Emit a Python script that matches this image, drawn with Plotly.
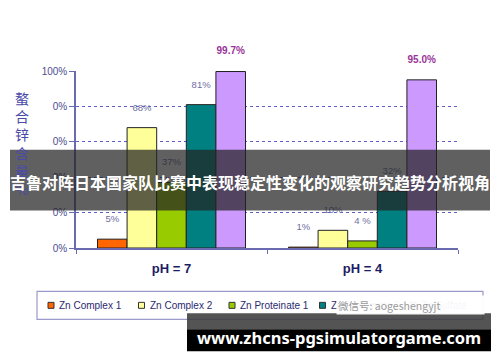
import plotly.graph_objects as go

# ---------------- data ----------------
categories = ["pH = 7", "pH = 4"]
series_names = ["Zn Complex 1", "Zn Complex 2", "Zn Proteinate 1", "Zn Proteinate 2", "Zn Sulfate"]
zn_complex_1 = [5, 0.5]
zn_complex_2 = [68, 10]
zn_proteinate_1 = [37, 4]
zn_proteinate_2 = [81, 32]
zn_sulfate = [99.7, 95.0]
labels_complex_1 = ["5%", "1%"]
labels_complex_2 = ["68%", "10%"]
labels_proteinate_1 = ["37%", "4 %"]
labels_proteinate_2 = ["81%", "32%"]
labels_sulfate = ["99.7%", "95.0%"]
y_tick_vals = [0, 20, 40, 60, 80, 100]
y_tick_text = ["0%", "0%", "0%", "0%", "0%", "100%"]
y_title_chars = ["螯", "合", "锌", "含", "量", "%"]
banner_text = "吉鲁对阵日本国家队比赛中表现稳定性变化的观察研究趋势分析视角"
url_text = "www.zhcns-pgsimulatorgame.com"
watermark_text = "微信号: aogeshengyjt"

values = [zn_complex_1, zn_complex_2, zn_proteinate_1, zn_proteinate_2, zn_sulfate]
labels = [labels_complex_1, labels_complex_2, labels_proteinate_1, labels_proteinate_2, labels_sulfate]
colors = ["#ff6600", "#ffff99", "#99cc00", "#008080", "#cc99ff"]
label_colors = ["#6e6ea0"] * 4 + ["#993399"]

# ---------------- layout geometry ----------------
W, H = 500, 362
ML, MR, MT, MB = 76, 42, 71, 113.5
PW, PH = W - ML - MR, H - MT - MB


def px(x):
    return (x - ML) / PW


def py(y):
    return (H - MB - y) / PH


group_pos = list(range(len(categories)))
bar_w = 0.155
n = len(series_names)

fig = go.Figure()
for i in range(n):
    xs = [g + (i - (n - 1) / 2) * bar_w for g in group_pos]
    fig.add_trace(go.Bar(
        x=xs, y=values[i], width=bar_w, name=series_names[i],
        marker=dict(color=colors[i], line=dict(color="#222222", width=1)),
        showlegend=False, hoverinfo="skip",
    ))
for i in range(n):
    xs = [g + (i - (n - 1) / 2) * bar_w for g in group_pos]
    bold = i == n - 1
    fig.add_trace(go.Scatter(
        x=xs, y=values[i], mode="markers+text", text=labels[i],
        textposition="top center", cliponaxis=False,
        marker=dict(size=22, color="rgba(0,0,0,0)"),
        textfont=dict(family="Liberation Sans, Arial", size=10 if bold else 9.5,
                      color=label_colors[i], weight="bold" if bold else "normal"),
        showlegend=False, hoverinfo="skip",
    ))

axis_col = "#6a6ab0"
fig.update_layout(
    width=W, height=H,
    margin=dict(l=ML, r=MR, t=MT, b=MB, pad=0),
    paper_bgcolor="white", plot_bgcolor="white",
    barmode="overlay",
    showlegend=False,
    xaxis=dict(
        range=[-0.5, 1.5], tickvals=group_pos, ticktext=categories,
        showgrid=False, zeroline=False, showline=True, linecolor=axis_col, linewidth=1.5,
        ticks="", ticklabelstandoff=8,
        tickfont=dict(family="Liberation Sans, Arial", size=13, color="#1c1c66", weight="bold"),
        minor=dict(tickvals=[-0.5, 0.5, 1.5], ticks="outside", ticklen=4, tickcolor=axis_col, showgrid=False),
    ),
    yaxis=dict(
        range=[0, 100], tickvals=y_tick_vals, ticktext=y_tick_text,
        showgrid=True, gridcolor="#5f5fcc", griddash="dot", gridwidth=1.4,
        zeroline=False, showline=True, linecolor=axis_col, linewidth=1.5,
        ticks="outside", ticklen=5, tickcolor=axis_col,
        tickfont=dict(family="Liberation Sans, Arial", size=10, color="#4d4d8f"),
    ),
)

shapes = []
annotations = []

# y-axis title (vertical stacked chars)
annotations.append(dict(
    xref="paper", yref="paper", x=px(22), y=py(144), xanchor="center", yanchor="middle",
    text="<br>".join(y_title_chars), showarrow=False,
    font=dict(family="Noto Sans CJK SC", size=14, color="#4a4aa8"),
))

# manual legend
shapes.append(dict(type="rect", xref="paper", yref="paper",
                   x0=px(37), x1=px(483), y0=py(292), y1=py(320),
                   line=dict(color="#9a9acc", width=1.2), fillcolor="white", layer="below"))
step = 90.5
for i in range(n):
    sx = 48 + i * step
    shapes.append(dict(type="rect", xref="paper", yref="paper",
                       x0=px(sx), x1=px(sx + 6), y0=py(303), y1=py(309),
                       line=dict(color="#333333", width=1), fillcolor=colors[i]))
    annotations.append(dict(
        xref="paper", yref="paper", x=px(sx + 9), y=py(306), xanchor="left", yanchor="middle",
        text=series_names[i], showarrow=False,
        font=dict(family="Liberation Sans, Arial", size=10, color="#2a2a70"),
    ))
# watermark on legend
annotations.append(dict(
    xref="paper", yref="paper", x=px(336), y=py(306), xanchor="left", yanchor="middle",
    text=watermark_text, showarrow=False, bgcolor="rgba(255,255,255,0.95)",
    width=145, align="left", height=16,
    font=dict(family="Noto Sans CJK SC", size=10.5, color="#9a9a9a"),
))

# top banner
shapes.append(dict(type="rect", xref="paper", yref="paper",
                   x0=px(10), x1=px(490), y0=py(150), y1=py(211),
                   line=dict(width=0), fillcolor="rgba(35,35,35,0.72)", layer="above"))
annotations.append(dict(
    xref="paper", yref="paper", x=px(250), y=py(182), xanchor="center", yanchor="middle",
    text=banner_text, showarrow=False,
    font=dict(family="Noto Sans CJK SC", size=16, color="white", weight="bold"),
))

# bottom url box
shapes.append(dict(type="rect", xref="paper", yref="paper",
                   x0=px(187), x1=px(491), y0=py(314), y1=py(330),
                   line=dict(width=0), fillcolor="rgba(60,60,60,0.88)", layer="above"))
shapes.append(dict(type="rect", xref="paper", yref="paper",
                   x0=px(187), x1=px(491), y0=py(330), y1=py(352),
                   line=dict(width=0), fillcolor="black", layer="above"))
annotations.append(dict(
    xref="paper", yref="paper", x=px(339), y=py(338), xanchor="center", yanchor="middle",
    text=url_text, showarrow=False,
    font=dict(family="Noto Sans", size=16.5, color="white", weight="bold"),
))

fig.update_layout(shapes=shapes, annotations=annotations)
fig.write_html("out.html")
